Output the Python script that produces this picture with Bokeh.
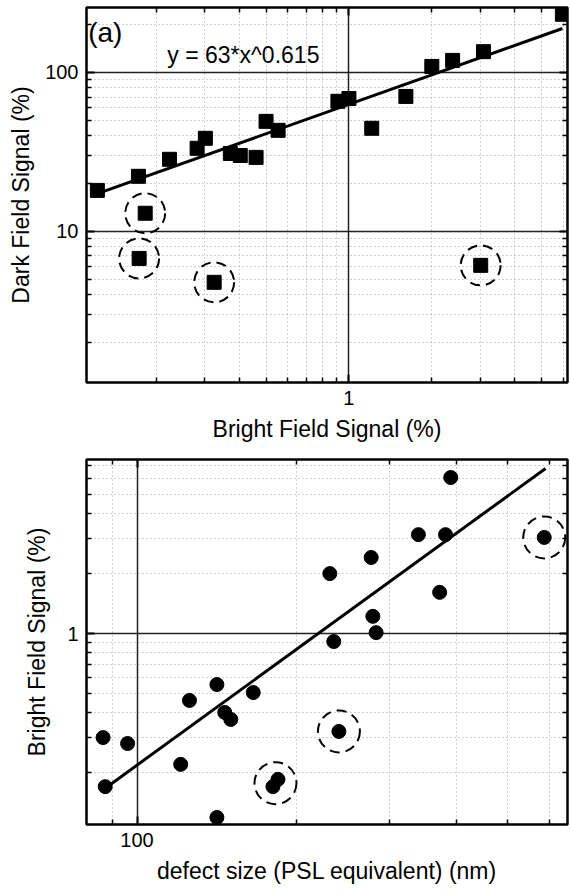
from bokeh.plotting import figure
from bokeh.layouts import column
from bokeh.models import FixedTicker, LogAxis, Label, BasicTickFormatter, CustomJSTickFormatter
from bokeh.embed import file_html
from bokeh.resources import INLINE

FONT = "Liberation Sans"

# ---------------- panel (a): dark field vs bright field ----------------
bf_a = [0.122, 0.172, 0.223, 0.281, 0.301, 0.371, 0.403, 0.46, 0.5, 0.553,
        0.912, 1.0, 1.21, 1.61, 2.0, 2.38, 3.08, 5.96]
df_a = [18.1, 22.2, 28.4, 33.3, 38.5, 30.9, 30.0, 29.2, 49.2, 43.2,
        65.8, 68.5, 44.5, 70.6, 109, 119, 135, 232]
# circled outliers
bf_a_out = [0.182, 0.173, 0.324, 3.01]
df_a_out = [13.0, 6.76, 4.78, 6.11]
# fit y = 63*x^0.615
fit_a_coef = 63
fit_a_exp = 0.615

xa_major = [1]
xa_minor = [0.2, 0.3, 0.4, 0.5, 0.6, 0.7, 0.8, 0.9, 2, 3, 4, 5, 6]
ya_major = [10, 100]
ya_minor = [2, 3, 4, 5, 6, 7, 8, 9, 20, 30, 40, 50, 60, 70, 80, 90, 200]

# ---------------- panel (b): bright field vs defect size ----------------
size_b = [86.3, 96.0, 87.1, 120.9, 125.6, 141.5, 146.4, 150.3, 165.7, 141.5,
          231.1, 235.1, 276.6, 278.6, 282.6, 339.6, 372.4, 382.0, 390.8]
bf_b = [0.300, 0.280, 0.170, 0.220, 0.461, 0.554, 0.401, 0.370, 0.505, 0.119,
        2.0, 0.911, 2.41, 1.22, 1.01, 3.14, 1.61, 3.14, 6.08]
size_b_out = [180.5, 184.5, 240.4, 586.6]
bf_b_out = [0.170, 0.185, 0.322, 3.04]
ring_b_x = [182.5, 240.4, 586.6]
ring_b_y = [0.177, 0.322, 3.04]
fit_b_x = [87.4, 590]
fit_b_y = [0.168, 6.75]

xb_major = [100]
xb_minor = [90, 200, 300, 400, 500, 600]
yb_major = [1]
yb_minor = [0.2, 0.3, 0.4, 0.5, 0.6, 0.7, 0.8, 0.9, 2, 3, 4, 5, 6, 7]


def style_axis(ax, labeled=True, label_standoff=8):
    ax.axis_line_color = None
    ax.major_tick_in = 8
    ax.major_tick_out = 0
    ax.minor_tick_in = 5
    ax.minor_tick_out = 0
    ax.major_tick_line_color = "black"
    ax.major_tick_line_width = 2
    ax.minor_tick_line_color = "black"
    ax.minor_tick_line_width = 1.5
    if labeled:
        ax.formatter = BasicTickFormatter()
        ax.major_label_text_font = FONT
        ax.major_label_text_font_size = "20px"
        ax.major_label_text_color = "black"
        ax.major_label_standoff = 8
        ax.axis_label_text_font = FONT
        ax.axis_label_text_font_size = "23px"
        ax.axis_label_text_font_style = "normal"
        ax.axis_label_text_color = "black"
        ax.axis_label_standoff = label_standoff
    else:
        ax.formatter = CustomJSTickFormatter(code="return ''")
        ax.major_label_standoff = 0
        ax.axis_label = None


def make_fig(width, height, xr, yr, borders, xmaj, xmin, ymaj, ymin, xlabel, ylabel,
             ylabel_standoff=8):
    p = figure(width=width, height=height, x_axis_type="log", y_axis_type="log",
               x_range=xr, y_range=yr, output_backend="svg", toolbar_location=None,
               min_border_left=borders[0], min_border_right=borders[1],
               min_border_top=borders[2], min_border_bottom=borders[3])
    p.background_fill_color = "white"
    p.border_fill_color = "white"
    p.outline_line_color = "black"
    p.outline_line_width = 2.5
    tx = FixedTicker(ticks=xmaj, minor_ticks=xmin)
    ty = FixedTicker(ticks=ymaj, minor_ticks=ymin)
    p.xaxis.ticker = tx
    p.yaxis.ticker = ty
    p.xaxis.axis_label = xlabel
    p.yaxis.axis_label = ylabel
    for ax in p.xaxis:
        style_axis(ax)
    for ax in p.yaxis:
        style_axis(ax, label_standoff=ylabel_standoff)
    top = LogAxis(ticker=FixedTicker(ticks=xmaj, minor_ticks=xmin))
    right = LogAxis(ticker=FixedTicker(ticks=ymaj, minor_ticks=ymin))
    style_axis(top, labeled=False)
    style_axis(right, labeled=False)
    p.add_layout(top, "above")
    p.add_layout(right, "right")
    p.xgrid.ticker = tx
    p.ygrid.ticker = ty
    for g in (p.xgrid, p.ygrid):
        g.grid_line_color = "#222222"
        g.grid_line_width = 1.5
        g.minor_grid_line_color = "#a0a0a0"
        g.minor_grid_line_width = 1
        g.minor_grid_line_dash = "1 3"
    return p


# ---- top figure ----
p1 = make_fig(570, 450, (0.1114, 6.22), (1.12, 256), (86, 2, 7, 68),
              xa_major, xa_minor, ya_major, ya_minor,
              "Bright Field Signal (%)", "Dark Field Signal (%)")
fit_a_x = [min(bf_a), max(bf_a)]
fit_a_y = [fit_a_coef * v ** fit_a_exp for v in fit_a_x]
p1.line(fit_a_x, fit_a_y, line_color="black", line_width=3)
p1.scatter(bf_a, df_a, marker="square", size=14, fill_color="black", line_color="black")
p1.scatter(bf_a_out, df_a_out, marker="square", size=14, fill_color="black", line_color="black")
p1.scatter(bf_a_out, df_a_out, marker="circle", size=40, fill_color=None,
           line_color="black", line_width=2, line_dash="10 6")
p1.add_layout(Label(x=0.113, y=178, text="(a)", text_font=FONT, text_font_size="28px",
                    text_baseline="middle", text_align="left", text_color="black"))
p1.add_layout(Label(x=0.219, y=128, text="y = 63*x^0.615", text_font=FONT,
                    text_font_size="23px", text_baseline="middle", text_align="left",
                    text_color="black"))

# ---- bottom figure ----
p2 = make_fig(570, 443, (80.3, 649), (0.1097, 7.49), (77, 3, 9, 69),
              xb_major, xb_minor, yb_major, yb_minor,
              "defect size (PSL equivalent) (nm)", "Bright Field Signal (%)",
              ylabel_standoff=14)
p2.line(fit_b_x, fit_b_y, line_color="black", line_width=3)
p2.scatter(size_b, bf_b, marker="circle", size=14, fill_color="black", line_color="black")
p2.scatter(size_b_out, bf_b_out, marker="circle", size=14, fill_color="black", line_color="black")
p2.scatter(ring_b_x, ring_b_y, marker="circle", size=42, fill_color=None,
           line_color="black", line_width=2, line_dash="10 6")

layout = column(p1, p2, spacing=0)
open("out.html", "w").write(file_html(layout, INLINE))
